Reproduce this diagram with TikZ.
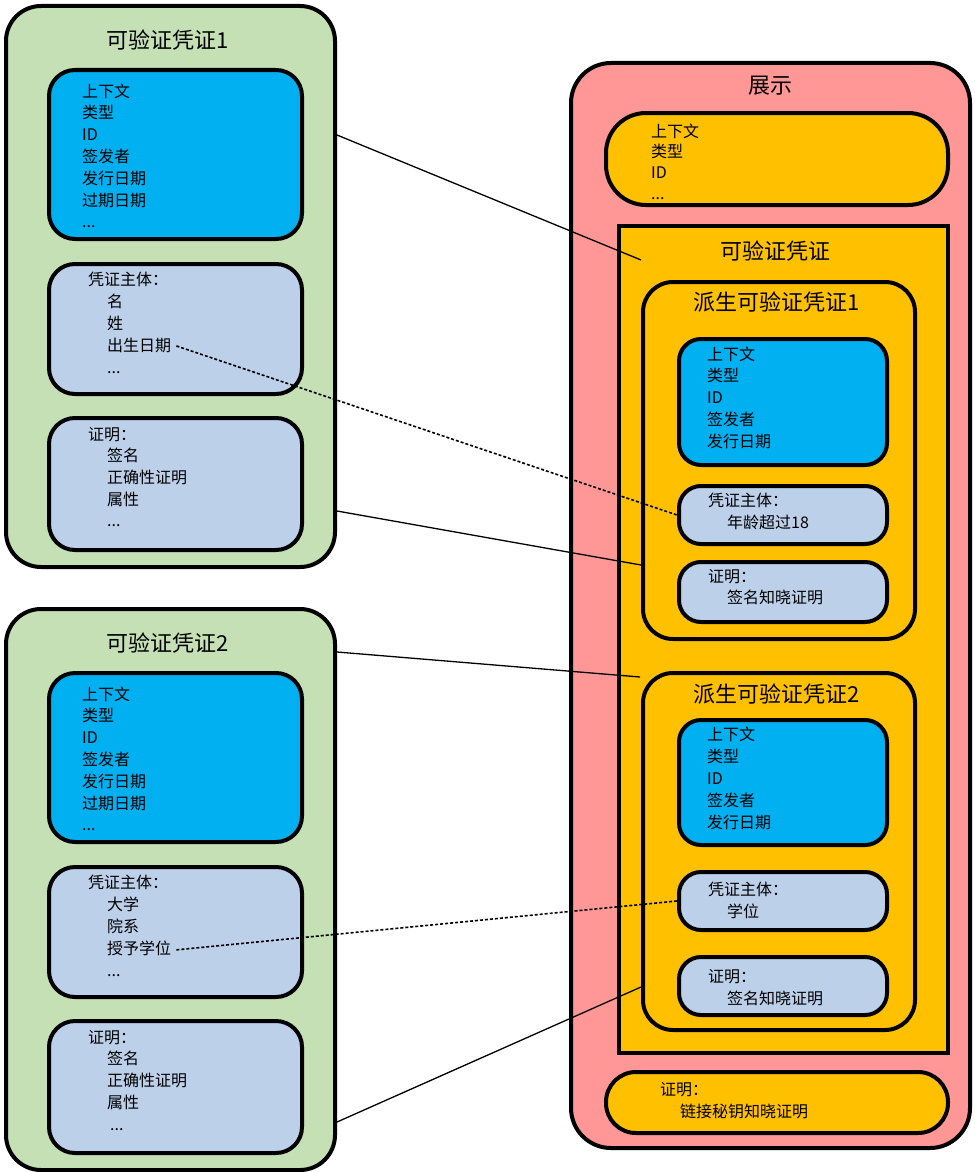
\documentclass[tikz,border=0pt]{standalone}
\usepackage{fontspec}
\setmainfont{Noto Sans CJK SC}
\usetikzlibrary{calc}
\definecolor{cgreen}{HTML}{C5E0B4}
\definecolor{cblue}{HTML}{00B0F0}
\definecolor{clblue}{HTML}{BDD0EA}
\definecolor{cpink}{HTML}{FF9797}
\definecolor{cyel}{HTML}{FFC000}
\newcommand\threedots{...}
\newcommand\txtlines[5]{%
  \foreach \t [count=\i] in {#5} {\node[txt] (#1-\i) at (#2, {#3+#4*(\i-1)}) {\t};}}
\tikzset{
  box/.style={draw, line width=4pt, anchor=north west, inner sep=0pt},
  txt/.style={anchor=base west, inner sep=0pt, font=\fontsize{16}{19}\selectfont},
  ttl/.style={anchor=center, inner sep=0pt, font=\fontsize{22}{26}\selectfont},
  conn/.style={line width=1.3pt},
  dconn/.style={line width=1.6pt, dash pattern=on 3pt off 2pt}
}
\begin{document}
\begin{tikzpicture}[x=1pt,y=-1pt]
\useasboundingbox (0,0) rectangle (974,1172);
% ---------- left credential 1
\node[box, fill=cgreen, rounded corners=35pt, minimum width=329pt, minimum height=561pt] (left1) at (4,4) {};
\node[box, fill=cblue, rounded corners=26pt, minimum width=253pt, minimum height=169pt] (blue1) at (47,68) {};
\node[box, fill=clblue, rounded corners=26pt, minimum width=253pt, minimum height=130pt] (subj1) at (47,262) {};
\node[box, fill=clblue, rounded corners=26pt, minimum width=253pt, minimum height=132pt] (proof1) at (47,416) {};
\node[ttl] (t1) at (168,40) {可验证凭证1};
\txtlines{b1}{82}{97}{21.8}{上下文,类型,ID,签发者,发行日期,过期日期,\threedots}
\node[txt] (s1h) at (88,285) {凭证主体：};
\txtlines{s1}{107}{307}{22}{名,姓,出生日期,\threedots}
\node[txt] (p1h) at (88,440) {证明：};
\txtlines{p1}{107}{461.5}{21.8}{签名,正确性证明,属性,\threedots}
% ---------- left credential 2
\node[box, fill=cgreen, rounded corners=35pt, minimum width=329pt, minimum height=561pt] (left2) at (4,607) {};
\node[box, fill=cblue, rounded corners=26pt, minimum width=253pt, minimum height=169pt] (blue2) at (47,671) {};
\node[box, fill=clblue, rounded corners=26pt, minimum width=253pt, minimum height=130pt] (subj2) at (47,865) {};
\node[box, fill=clblue, rounded corners=26pt, minimum width=253pt, minimum height=132pt] (proof2) at (47,1019) {};
\node[ttl] (t2) at (168,643) {可验证凭证2};
\txtlines{b2}{82}{700}{21.8}{上下文,类型,ID,签发者,发行日期,过期日期,\threedots}
\node[txt] (s2h) at (88,888) {凭证主体：};
\txtlines{s2}{107}{910}{22}{大学,院系,授予学位,\threedots}
\node[txt] (p2h) at (88,1043) {证明：};
\txtlines{p2}{107}{1064.5}{21.8}{签名,正确性证明,属性}
\node[txt] (p2-4) at (110,1130) {\threedots};
% ---------- presentation
\node[box, fill=cpink, rounded corners=40pt, minimum width=399pt, minimum height=1085pt] (pres) at (569,61) {};
\node[ttl] (tp) at (770,86) {展示};
\node[box, fill=cyel, rounded corners=40pt, minimum width=342pt, minimum height=92pt] (ptop) at (604,111) {};
\txtlines{pt}{651}{137}{20.7}{上下文,类型,ID,\threedots}
\node[box, fill=cyel, minimum width=329pt, minimum height=827pt] (vc) at (617,224) {};
\node[ttl] (tvc) at (775,251) {可验证凭证};
% derived 1
\node[box, fill=cyel, rounded corners=30pt, minimum width=272pt, minimum height=357pt] (d1) at (641,280) {};
\node[ttl] (td1) at (777,302) {派生可验证凭证1};
\node[box, fill=cblue, rounded corners=22pt, minimum width=208pt, minimum height=126pt] (bd1) at (677,337) {};
\txtlines{bd1t}{707}{360}{21.8}{上下文,类型,ID,签发者,发行日期}
\node[box, fill=clblue, rounded corners=22pt, minimum width=208pt, minimum height=58pt] (sd1) at (677,484) {};
\node[txt] (sd1h) at (708,506) {凭证主体：};
\node[txt] (sd1i) at (727,528) {年龄超过18};
\node[box, fill=clblue, rounded corners=22pt, minimum width=208pt, minimum height=60pt] (pd1) at (677,560) {};
\node[txt] (pd1h) at (708,582) {证明：};
\node[txt] (pd1i) at (727,603) {签名知晓证明};
% derived 2
\node[box, fill=cyel, rounded corners=30pt, minimum width=272pt, minimum height=357pt] (d2) at (641,671) {};
\node[ttl] (td2) at (777,694) {派生可验证凭证2};
\node[box, fill=cblue, rounded corners=22pt, minimum width=208pt, minimum height=125pt] (bd2) at (677,718) {};
\txtlines{bd2t}{707}{740}{22}{上下文,类型,ID,签发者,发行日期}
\node[box, fill=clblue, rounded corners=22pt, minimum width=208pt, minimum height=58pt] (sd2) at (677,870) {};
\node[txt] (sd2h) at (708,895) {凭证主体：};
\node[txt] (sd2i) at (727,917) {学位};
\node[box, fill=clblue, rounded corners=22pt, minimum width=208pt, minimum height=58pt] (pd2) at (677,955) {};
\node[txt] (pd2h) at (708,982) {证明：};
\node[txt] (pd2i) at (727,1004) {签名知晓证明};
% bottom proof
\node[box, fill=cyel, rounded corners=30pt, minimum width=342pt, minimum height=61pt] (pbot) at (604,1070) {};
\node[txt] (pbh) at (660,1095) {证明：};
\node[txt] (pbi) at (680,1117) {链接秘钥知晓证明};
% ---------- connectors
\coordinate (e1) at (641,260);
\coordinate (e3) at (640,677);
\draw[conn] (left1.east |- 0,135) -- (e1);
\draw[conn] (left1.east |- 0,511) -- (d1.west |- 0,565);
\draw[conn] (left2.east |- 0,652) -- (e3);
\draw[conn] (left2.east |- 0,1122) -- (d2.west |- 0,987);
\draw[dconn] ([xshift=5pt,yshift=-1pt]s1-3.east) -- (sd1.west);
\draw[dconn] ([xshift=5pt,yshift=-2pt]s2-3.east) -- (sd2.west);
\end{tikzpicture}
\end{document}
